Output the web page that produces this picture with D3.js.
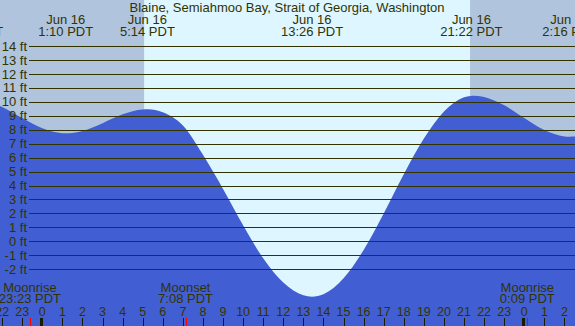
<!DOCTYPE html>
<html>
<head>
<meta charset="utf-8">
<script src="https://cdn.jsdelivr.net/npm/d3@7"></script>
<style>
  html, body { margin: 0; padding: 0; background: #b0c4de; }
  svg { display: block; }
  text { font-family: "Liberation Sans", Arial, sans-serif; fill: #333300; }
</style>
</head>
<body>
<svg id="chart" width="575" height="326"></svg>
<script>
// ---- data (hours since midnight Jun 16, PDT) ----
const title = "Blaine, Semiahmoo Bay, Strait of Georgia, Washington";
const tideHours = [-4, -3.5, -3, -2, -1, 0, 1, 1.17, 2, 3, 4, 5, 5.25, 6, 7, 8, 9, 10, 11, 12, 13, 13.43, 14, 15, 16, 17, 18, 19, 20, 21, 21.45, 22, 23, 24, 25, 26, 26.27, 27];
const tideFeet  = [10.1, 10.2, 10.13, 9.63, 8.83, 8.10, 7.75, 7.74, 7.91, 8.47, 9.10, 9.45, 9.46, 9.25, 8.3, 6.2, 3.75, 1.15, -1.22, -2.96, -3.87, -3.97, -3.79, -2.65, -0.62, 2.00, 4.81, 7.37, 9.31, 10.33, 10.44, 10.35, 9.75, 8.84, 7.97, 7.52, 7.50, 7.55];
const sunriseHour = 5.07;
const sunsetHour = 21.3;
const tideEventHours = [-3.5, 1.167, 5.233, 13.433, 21.367, 26.267];
const tideEventDates = ["Jun 15", "Jun 16", "Jun 16", "Jun 16", "Jun 16", "Jun 17"];
const tideEventTimes = ["20:30 PDT", "1:10 PDT", "5:14 PDT", "13:26 PDT", "21:22 PDT", "2:16 PDT"];
const moonEventHours = [-0.617, 7.133, 24.15];
const moonEventNames = ["Moonrise", "Moonset", "Moonrise"];
const moonEventTimes = ["23:23 PDT", "7:08 PDT", "0:09 PDT"];
const hourTicks = d3.range(-2, 27);
const hourLabels = hourTicks.map(h => String((h + 24) % 24));
const feetTicks = d3.range(-2, 15);
const feetLabels = feetTicks.map(v => v + " ft");

// ---- layout ----
const W = 575, H = 326;
const svg = d3.select("#chart");
const x = d3.scaleLinear().domain([0, 24]).range([42.3, 524.3]);
const y = d3.scaleLinear().domain([0, 14]).range([241.3, 46]);

// backgrounds
svg.append("rect").attr("x", 0).attr("y", 0).attr("width", W).attr("height", H).attr("fill", "#b0c4de");
svg.append("rect")
  .attr("x", x(sunriseHour)).attr("y", 0)
  .attr("width", x(sunsetHour) - x(sunriseHour)).attr("height", H)
  .attr("fill", "#ddf6ff");

// water
const pts = tideHours.map((h, i) => [h, tideFeet[i]]);
const area = d3.area()
  .x(d => x(d[0])).y0(H).y1(d => y(d[1]))
  .curve(d3.curveMonotoneX);
svg.append("path").datum(pts).attr("d", area).attr("fill", "#415fd3");

// grid lines
svg.append("g").selectAll("line").data(feetTicks).join("line")
  .attr("x1", 29).attr("x2", W)
  .attr("y1", d => Math.round(y(d)) + 0.5).attr("y2", d => Math.round(y(d)) + 0.5)
  .attr("stroke", "#333300").attr("stroke-width", 1.2);

// y labels
svg.append("g").selectAll("text").data(feetTicks).join("text")
  .attr("x", 27).attr("y", d => y(d) + 4.6)
  .attr("text-anchor", "end").attr("font-size", 13)
  .text((d, i) => feetLabels[i]);

// title
svg.append("text").attr("x", 287).attr("y", 11.5).attr("text-anchor", "middle")
  .attr("font-size", 13).text(title);

// tide event labels
const te = svg.append("g").selectAll("g").data(tideEventHours).join("g");
te.append("text").attr("x", d => x(d)).attr("y", 24).attr("text-anchor", "middle")
  .attr("font-size", 13).text((d, i) => tideEventDates[i]);
te.append("text").attr("x", d => x(d)).attr("y", 36.3).attr("text-anchor", "middle")
  .attr("font-size", 13).text((d, i) => tideEventTimes[i]);

// moon labels
const me = svg.append("g").selectAll("g").data(moonEventHours).join("g");
me.append("text").attr("x", d => x(d)).attr("y", 291.8).attr("text-anchor", "middle")
  .attr("font-size", 13).text((d, i) => moonEventNames[i]);
me.append("text").attr("x", d => x(d)).attr("y", 303.4).attr("text-anchor", "middle")
  .attr("font-size", 13).text((d, i) => moonEventTimes[i]);

// hour labels
svg.append("g").selectAll("text").data(hourTicks).join("text")
  .attr("x", d => x(d)).attr("y", 315.8).attr("text-anchor", "middle")
  .attr("font-size", 12.5).text((d, i) => hourLabels[i]);

// hour ticks
svg.append("g").selectAll("rect").data(hourTicks).join("rect")
  .attr("x", d => (d % 24 === 0) ? Math.round(x(d)) - 2 : Math.round(x(d)))
  .attr("y", 318).attr("height", H - 318)
  .attr("width", d => (d % 24 === 0) ? 3 : 1)
  .attr("fill", "#1a1a00");

// moon event ticks
svg.append("g").selectAll("rect").data(moonEventHours).join("rect")
  .attr("x", d => Math.round(x(d))).attr("y", 318).attr("width", 1).attr("height", H - 318)
  .attr("fill", "#ff0000");
</script>
</body>
</html>
